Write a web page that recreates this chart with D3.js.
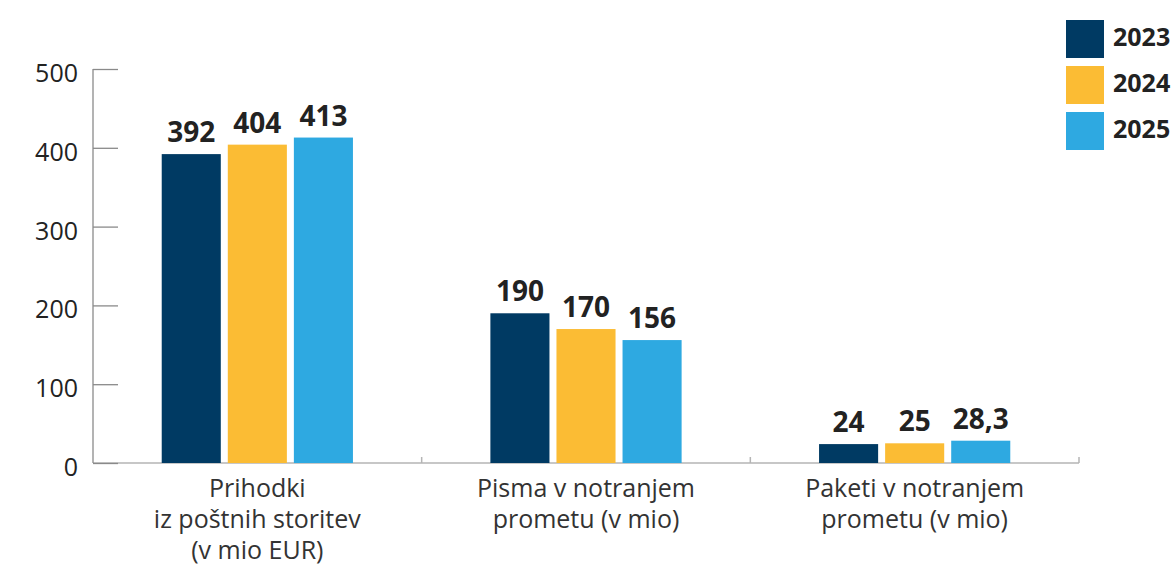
<!DOCTYPE html>
<html>
<head>
<meta charset="utf-8">
<script src="https://cdn.jsdelivr.net/npm/d3@7"></script>
<style>
  html, body { margin: 0; padding: 0; background: #fff; }
  svg { display: block; }
  text { font-family: "Open Sans", "Noto Sans", sans-serif; }
</style>
</head>
<body>
<svg id="chart" width="1176" height="569"></svg>
<script>
const categories = [
  ["Prihodki", "iz poštnih storitev", "(v mio EUR)"],
  ["Pisma v notranjem", "prometu (v mio)"],
  ["Paketi v notranjem", "prometu (v mio)"]
];
const years = ["2023", "2024", "2025"];
const values2023 = [392, 190, 24];
const values2024 = [404, 170, 25];
const values2025 = [413, 156, 28.3];
const valueLabels2023 = ["392", "190", "24"];
const valueLabels2024 = ["404", "170", "25"];
const valueLabels2025 = ["413", "156", "28,3"];
const yTicks = [0, 100, 200, 300, 400, 500];
const colors = ["#003a63", "#fbbc34", "#2ea9e1"];

const series = [
  { year: years[0], values: values2023, labels: valueLabels2023 },
  { year: years[1], values: values2024, labels: valueLabels2024 },
  { year: years[2], values: values2025, labels: valueLabels2025 }
];

const svg = d3.select("#chart");
const mLeft = 93, mRight = 1079, mTop = 69, mBottom = 463;

const x0 = d3.scaleBand().domain(d3.range(categories.length)).range([mLeft, mRight]).padding(0);
const x1 = d3.scaleBand().domain(years).range([0, x0.bandwidth()]).paddingInner(0.106).paddingOuter(1.04);
const y = d3.scaleLinear().domain([0, 500]).range([mBottom, mTop]);
const color = d3.scaleOrdinal().domain(years).range(colors);

// x axis baseline
svg.append("line").attr("x1", mLeft).attr("x2", mRight).attr("y1", mBottom).attr("y2", mBottom)
  .attr("stroke", "#b5b5b5").attr("stroke-width", 1.5);
d3.range(1, categories.length + 1).forEach(i => {
  const xx = i < categories.length ? x0(i) : mRight;
  svg.append("line").attr("x1", xx).attr("x2", xx).attr("y1", mBottom).attr("y2", mBottom - 6)
    .attr("stroke", "#b5b5b5").attr("stroke-width", 1.5);
});

// y axis
const yAxis = d3.axisRight(y).tickValues(yTicks).tickSize(25).tickFormat("");
const yg = svg.append("g").attr("transform", `translate(${mLeft},0)`).call(yAxis);
yg.select(".domain").attr("stroke", "#8a8a8a").attr("stroke-width", 1.3).attr("d", `M0,${mTop}V${mBottom}`);
yg.selectAll(".tick line").attr("stroke", "#8a8a8a").attr("stroke-width", 1.3);

svg.append("g").selectAll("text").data(yTicks).join("text")
  .attr("x", 78).attr("y", d => y(d) + 4).attr("dy", "0.36em")
  .attr("text-anchor", "end").attr("font-size", 25).attr("fill", "#222")
  .text(d => d);

// bars
const groups = svg.append("g").selectAll("g").data(categories).join("g")
  .attr("transform", (d, i) => `translate(${x0(i)},0)`);

series.forEach(s => {
  groups.append("rect")
    .attr("x", x1(s.year))
    .attr("width", x1.bandwidth())
    .attr("y", (d, i) => y(s.values[i]))
    .attr("height", (d, i) => y(0) - y(s.values[i]))
    .attr("fill", color(s.year));
  groups.append("text")
    .attr("x", x1(s.year) + x1.bandwidth() / 2)
    .attr("y", (d, i) => y(s.values[i]) - 12)
    .attr("text-anchor", "middle")
    .attr("font-size", 28).attr("font-weight", "bold").attr("fill", "#222")
    .text((d, i) => s.labels[i]);
});

// category labels
groups.append("text")
  .attr("x", x0.bandwidth() / 2)
  .attr("text-anchor", "middle")
  .attr("font-size", 25).attr("fill", "#333")
  .each(function(d) {
    d3.select(this).selectAll("tspan").data(d).join("tspan")
      .attr("x", x0.bandwidth() / 2)
      .attr("y", (t, j) => 497 + j * 31)
      .text(t => t);
  });

// legend
const legend = svg.append("g").selectAll("g").data(years).join("g")
  .attr("transform", (d, i) => `translate(1066,${20 + i * 46})`);
legend.append("rect").attr("width", 38).attr("height", 38).attr("fill", d => color(d));
legend.append("text").attr("x", 47).attr("y", 17).attr("dy", "0.36em")
  .attr("font-size", 25).attr("font-weight", "bold").attr("fill", "#222")
  .text(d => d);
</script>
</body>
</html>
